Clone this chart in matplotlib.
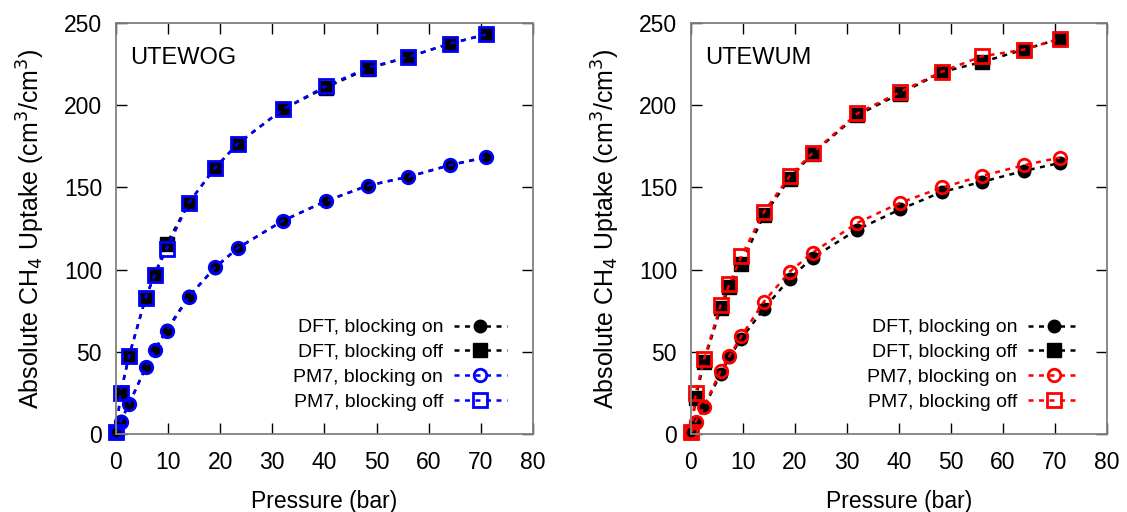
import matplotlib.pyplot as plt
import numpy as np

plt.rcParams['font.family'] = ['Liberation Sans', 'DejaVu Sans']

# pressure points (bar)
p = [0.05, 0.9, 2.5, 5.7, 7.4, 9.7, 14, 19, 23.4, 32, 40.2, 48.3, 56, 64, 71]

# UTEWOG
wog_dft_on = [1, 7.9, 18.2, 40.5, 51, 63.2, 84, 101, 113.2, 129.7, 141.6, 151.1, 156.4, 163.5, 168.4]
wog_dft_off = [1.4, 25, 47.4, 82.9, 96.6, 115.5, 140.8, 161.9, 176.7, 197.5, 210.7, 222.2, 229.3, 237.4, 243.1]
wog_pm7_on = [1, 7.5, 18.2, 40.5, 51, 62.5, 83.5, 101.5, 113.2, 129.7, 141.6, 151.1, 156.4, 163.5, 168.4]
wog_pm7_off = [1.4, 25, 47.4, 82.9, 96.6, 112.5, 140.8, 161.9, 176.7, 197.5, 211.5, 222.8, 229.3, 237.4, 243.1]

# UTEWUM
wum_dft_on = [0.4, 6.9, 16.2, 36.5, 46.6, 58.1, 76, 94.6, 107.2, 124.4, 136.6, 147.3, 153.4, 160, 164.9]
wum_dft_off = [1.4, 21.7, 44, 76.4, 89.5, 103.7, 133, 155.4, 170.6, 194, 207, 220.2, 226.3, 233.8, 240.5]
wum_pm7_on = [1, 7.5, 16.6, 38.5, 47.4, 59.6, 80.4, 98.7, 110.4, 128.4, 140.6, 150, 157, 163.5, 168.2]
wum_pm7_off = [1.4, 24.7, 45.4, 78.4, 91, 108.2, 134.8, 157, 171, 195, 208, 220.5, 229.8, 233.8, 240.5]

labels = ['DFT, blocking on', 'DFT, blocking off', 'PM7, blocking on', 'PM7, blocking off']
panels = [('UTEWOG', '#0000ff', wog_dft_on, wog_dft_off, wog_pm7_on, wog_pm7_off),
          ('UTEWUM', '#ff0000', wum_dft_on, wum_dft_off, wum_pm7_on, wum_pm7_off)]

fig = plt.figure(figsize=(11.27, 5.12), dpi=100)
axes = [fig.add_axes([0.1029, 0.1523, 0.370, 0.8027]),
        fig.add_axes([0.6131, 0.1523, 0.369, 0.8027])]

for ax, (name, col, d_on, d_off, m_on, m_off) in zip(axes, panels):
    kw = dict(ls=(0, (2, 2.2)), lw=1.8, clip_on=False)
    ax.plot(p, d_on, color='k', marker='o', ms=9, mec='k', mfc='k', label=labels[0], **kw)
    ax.plot(p, d_off, color='k', marker='s', ms=10, mec='k', mfc='k', label=labels[1], **kw)
    ax.plot(p, m_on, color=col, marker='o', ms=9, mec=col, mfc='none', mew=2, label=labels[2], **kw)
    ax.plot(p, m_off, color=col, marker='s', ms=10, mec=col, mfc='none', mew=2, label=labels[3], **kw)

    ax.set_xlim(0, 80)
    ax.set_ylim(0, 250)
    ax.set_xticks(np.arange(0, 81, 10))
    ax.set_yticks(np.arange(0, 251, 50))
    ax.tick_params(direction='in', top=True, right=True, length=8, width=1,
                   labelsize=16.5, pad=10)
    ax.tick_params(axis='x', pad=12)
    for s in ax.spines.values():
        s.set_color('#808080')
        s.set_linewidth(1.3)
    ax.set_xlabel('Pressure (bar)', fontsize=16.5, labelpad=11.5)
    ax.set_ylabel('Absolute CH$_4$ Uptake (cm$^3$/cm$^3$)', fontsize=18, labelpad=12)
    ax.text(0.034, 0.915, name, transform=ax.transAxes, fontsize=17, va='center')
    ax.legend(loc='lower right', bbox_to_anchor=(0.96, 0.033), frameon=False,
              markerfirst=False, fontsize=14, handlelength=2.7, handletextpad=0.55,
              labelspacing=0.37, borderpad=0)

fig.savefig('out.png', dpi=100)
